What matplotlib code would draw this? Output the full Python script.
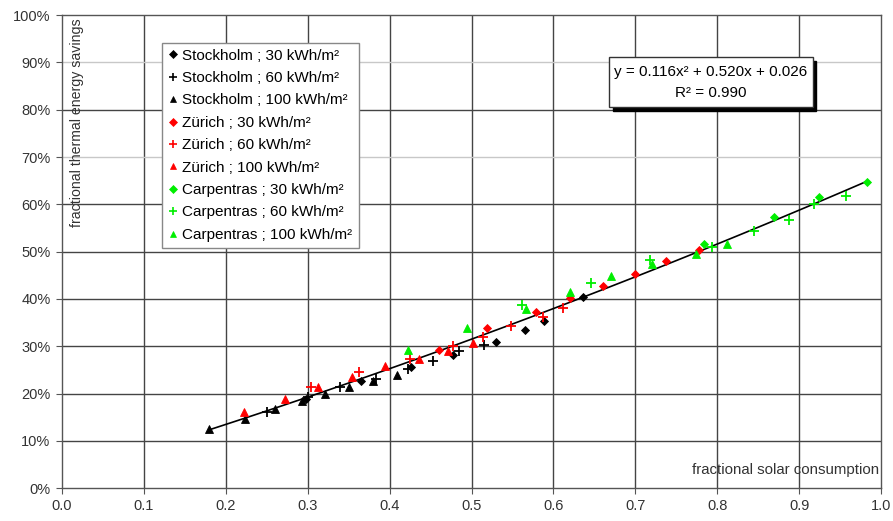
import matplotlib
matplotlib.use("Agg")
import matplotlib.pyplot as plt
from matplotlib.lines import Line2D
from matplotlib.patches import Rectangle
from matplotlib.ticker import FuncFormatter, MultipleLocator
import numpy as np

plt.rcParams["font.family"] = ["Liberation Sans", "DejaVu Sans"]

# ── data (x = fractional solar consumption, y = savings %) ──
sth30_x = [0.298, 0.365, 0.426, 0.478, 0.530, 0.565, 0.589, 0.636]
sth30_y = [18.8, 22.7, 25.7, 28.1, 30.8, 33.4, 35.4, 40.4]
sth60_x = [0.250, 0.300, 0.340, 0.384, 0.422, 0.453, 0.485, 0.515]
sth60_y = [16.2, 19.2, 21.3, 23.1, 25.1, 26.9, 29.0, 30.2]
sth100_x = [0.180, 0.224, 0.260, 0.293, 0.321, 0.351, 0.380, 0.409]
sth100_y = [12.5, 14.7, 16.8, 18.5, 20.0, 21.4, 22.7, 24.0]

zur30_x = [0.460, 0.519, 0.579, 0.620, 0.660, 0.699, 0.737, 0.777]
zur30_y = [29.3, 33.8, 37.3, 40.3, 42.7, 45.2, 48.0, 50.3]
zur60_x = [0.304, 0.363, 0.425, 0.478, 0.514, 0.548, 0.587, 0.612]
zur60_y = [21.3, 24.6, 27.4, 30.0, 32.0, 34.2, 36.1, 38.1]
zur100_x = [0.222, 0.273, 0.313, 0.354, 0.394, 0.436, 0.471, 0.502]
zur100_y = [16.0, 18.8, 21.4, 23.5, 25.9, 27.4, 29.0, 30.7]

car30_x = [0.783, 0.869, 0.924, 0.982]
car30_y = [51.7, 57.4, 61.5, 64.8]
car60_x = [0.562, 0.646, 0.718, 0.793, 0.845, 0.887, 0.918, 0.957]
car60_y = [38.7, 43.4, 48.2, 50.9, 54.3, 56.7, 60.0, 61.8]
car100_x = [0.422, 0.494, 0.566, 0.620, 0.670, 0.720, 0.774, 0.812]
car100_y = [29.3, 33.8, 37.8, 41.5, 44.9, 47.4, 49.6, 51.6]

# trend line from the stated fit
fit_coef = [0.116, 0.520, 0.026]
fit_range = [0.18, 0.98]

series = [
    ("Stockholm ; 30 kWh/m²", sth30_x, sth30_y, "D", "black"),
    ("Stockholm ; 60 kWh/m²", sth60_x, sth60_y, "+", "black"),
    ("Stockholm ; 100 kWh/m²", sth100_x, sth100_y, "^", "black"),
    ("Zürich ; 30 kWh/m²", zur30_x, zur30_y, "D", "#ff0000"),
    ("Zürich ; 60 kWh/m²", zur60_x, zur60_y, "+", "#ff0000"),
    ("Zürich ; 100 kWh/m²", zur100_x, zur100_y, "^", "#ff0000"),
    ("Carpentras ; 30 kWh/m²", car30_x, car30_y, "D", "#00ee00"),
    ("Carpentras ; 60 kWh/m²", car60_x, car60_y, "+", "#00ee00"),
    ("Carpentras ; 100 kWh/m²", car100_x, car100_y, "^", "#00ee00"),
]

MSIZE = {"D": 4.0, "+": 6.5, "^": 5.5}

fig = plt.figure(figsize=(8.93, 5.21), dpi=100, facecolor="white")
ax = fig.add_axes([0.069, 0.063, 0.918, 0.908])
ax.set_xlim(0, 1.0)
ax.set_ylim(0, 100)

# grid
for xv in np.arange(0.1, 1.0, 0.1):
    ax.axvline(xv, color="#444444", lw=1.0, zorder=0)
for yv in range(10, 100, 10):
    c = "#c8c8c8" if yv in (70, 90) else "#444444"
    ax.axhline(yv, color=c, lw=1.0, zorder=0)

# scatter
handles = []
for label, xs, ys, m, col in series:
    ax.plot(xs, ys, linestyle="none", marker=m, color=col, markersize=MSIZE[m],
            markeredgewidth=1.3 if m == "+" else 0.6, zorder=3)
    handles.append(Line2D([], [], linestyle="none", marker=m, color=col,
                          markersize=MSIZE[m] * 0.9,
                          markeredgewidth=1.2 if m == "+" else 0.5, label=label))

# trend line
xf = np.linspace(fit_range[0], fit_range[1], 100)
yf = np.polyval(fit_coef, xf) * 100
ax.plot(xf, yf, color="black", lw=1.2, zorder=2)

# axes styling
for s in ax.spines.values():
    s.set_color("#555555")
    s.set_linewidth(1.0)
ax.xaxis.set_major_locator(MultipleLocator(0.1))
ax.yaxis.set_major_locator(MultipleLocator(10))
ax.xaxis.set_major_formatter(FuncFormatter(lambda v, p: f"{v:.1f}"))
ax.yaxis.set_major_formatter(FuncFormatter(lambda v, p: f"{v:.0f}%"))
ax.tick_params(axis="both", direction="out", length=4, color="#555555",
               labelsize=10.5, labelcolor="#333333", pad=4)

# axis titles inside the plot
ax.text(0.019, 0.993, "fractional thermal energy savings", rotation=90,
        transform=ax.transAxes, ha="center", va="top", fontsize=10.2, color="#333333")
ax.text(0.997, 0.038, "fractional solar consumption", transform=ax.transAxes,
        ha="right", va="center", fontsize=10.8, color="#333333")

# legend
leg = ax.legend(handles=handles, loc="upper left", bbox_to_anchor=(0.123, 0.942),
                borderaxespad=0, fontsize=11, handlelength=0.6, handletextpad=0.3,
                labelspacing=0.55, borderpad=0.4, fancybox=False, framealpha=1,
                edgecolor="#888888")
leg.get_frame().set_linewidth(1.0)
leg.set_zorder(5)

# equation box with shadow
bx0, by0, bw, bh = 0.668, 0.805, 0.248, 0.106
ax.add_patch(Rectangle((bx0 + 0.004, by0 - 0.007), bw, bh, transform=ax.transAxes,
                       facecolor="black", edgecolor="black", zorder=5))
ax.add_patch(Rectangle((bx0, by0), bw, bh, transform=ax.transAxes,
                       facecolor="white", edgecolor="#333333", lw=1.0, zorder=6))
ax.text(bx0 + bw / 2, by0 + bh * 0.70, "y = 0.116x² + 0.520x + 0.026",
        transform=ax.transAxes, ha="center", va="center", fontsize=11, zorder=7)
ax.text(bx0 + bw / 2, by0 + bh * 0.28, "R² = 0.990",
        transform=ax.transAxes, ha="center", va="center", fontsize=11, zorder=7)

fig.savefig("out.png", dpi=100, facecolor="white")
